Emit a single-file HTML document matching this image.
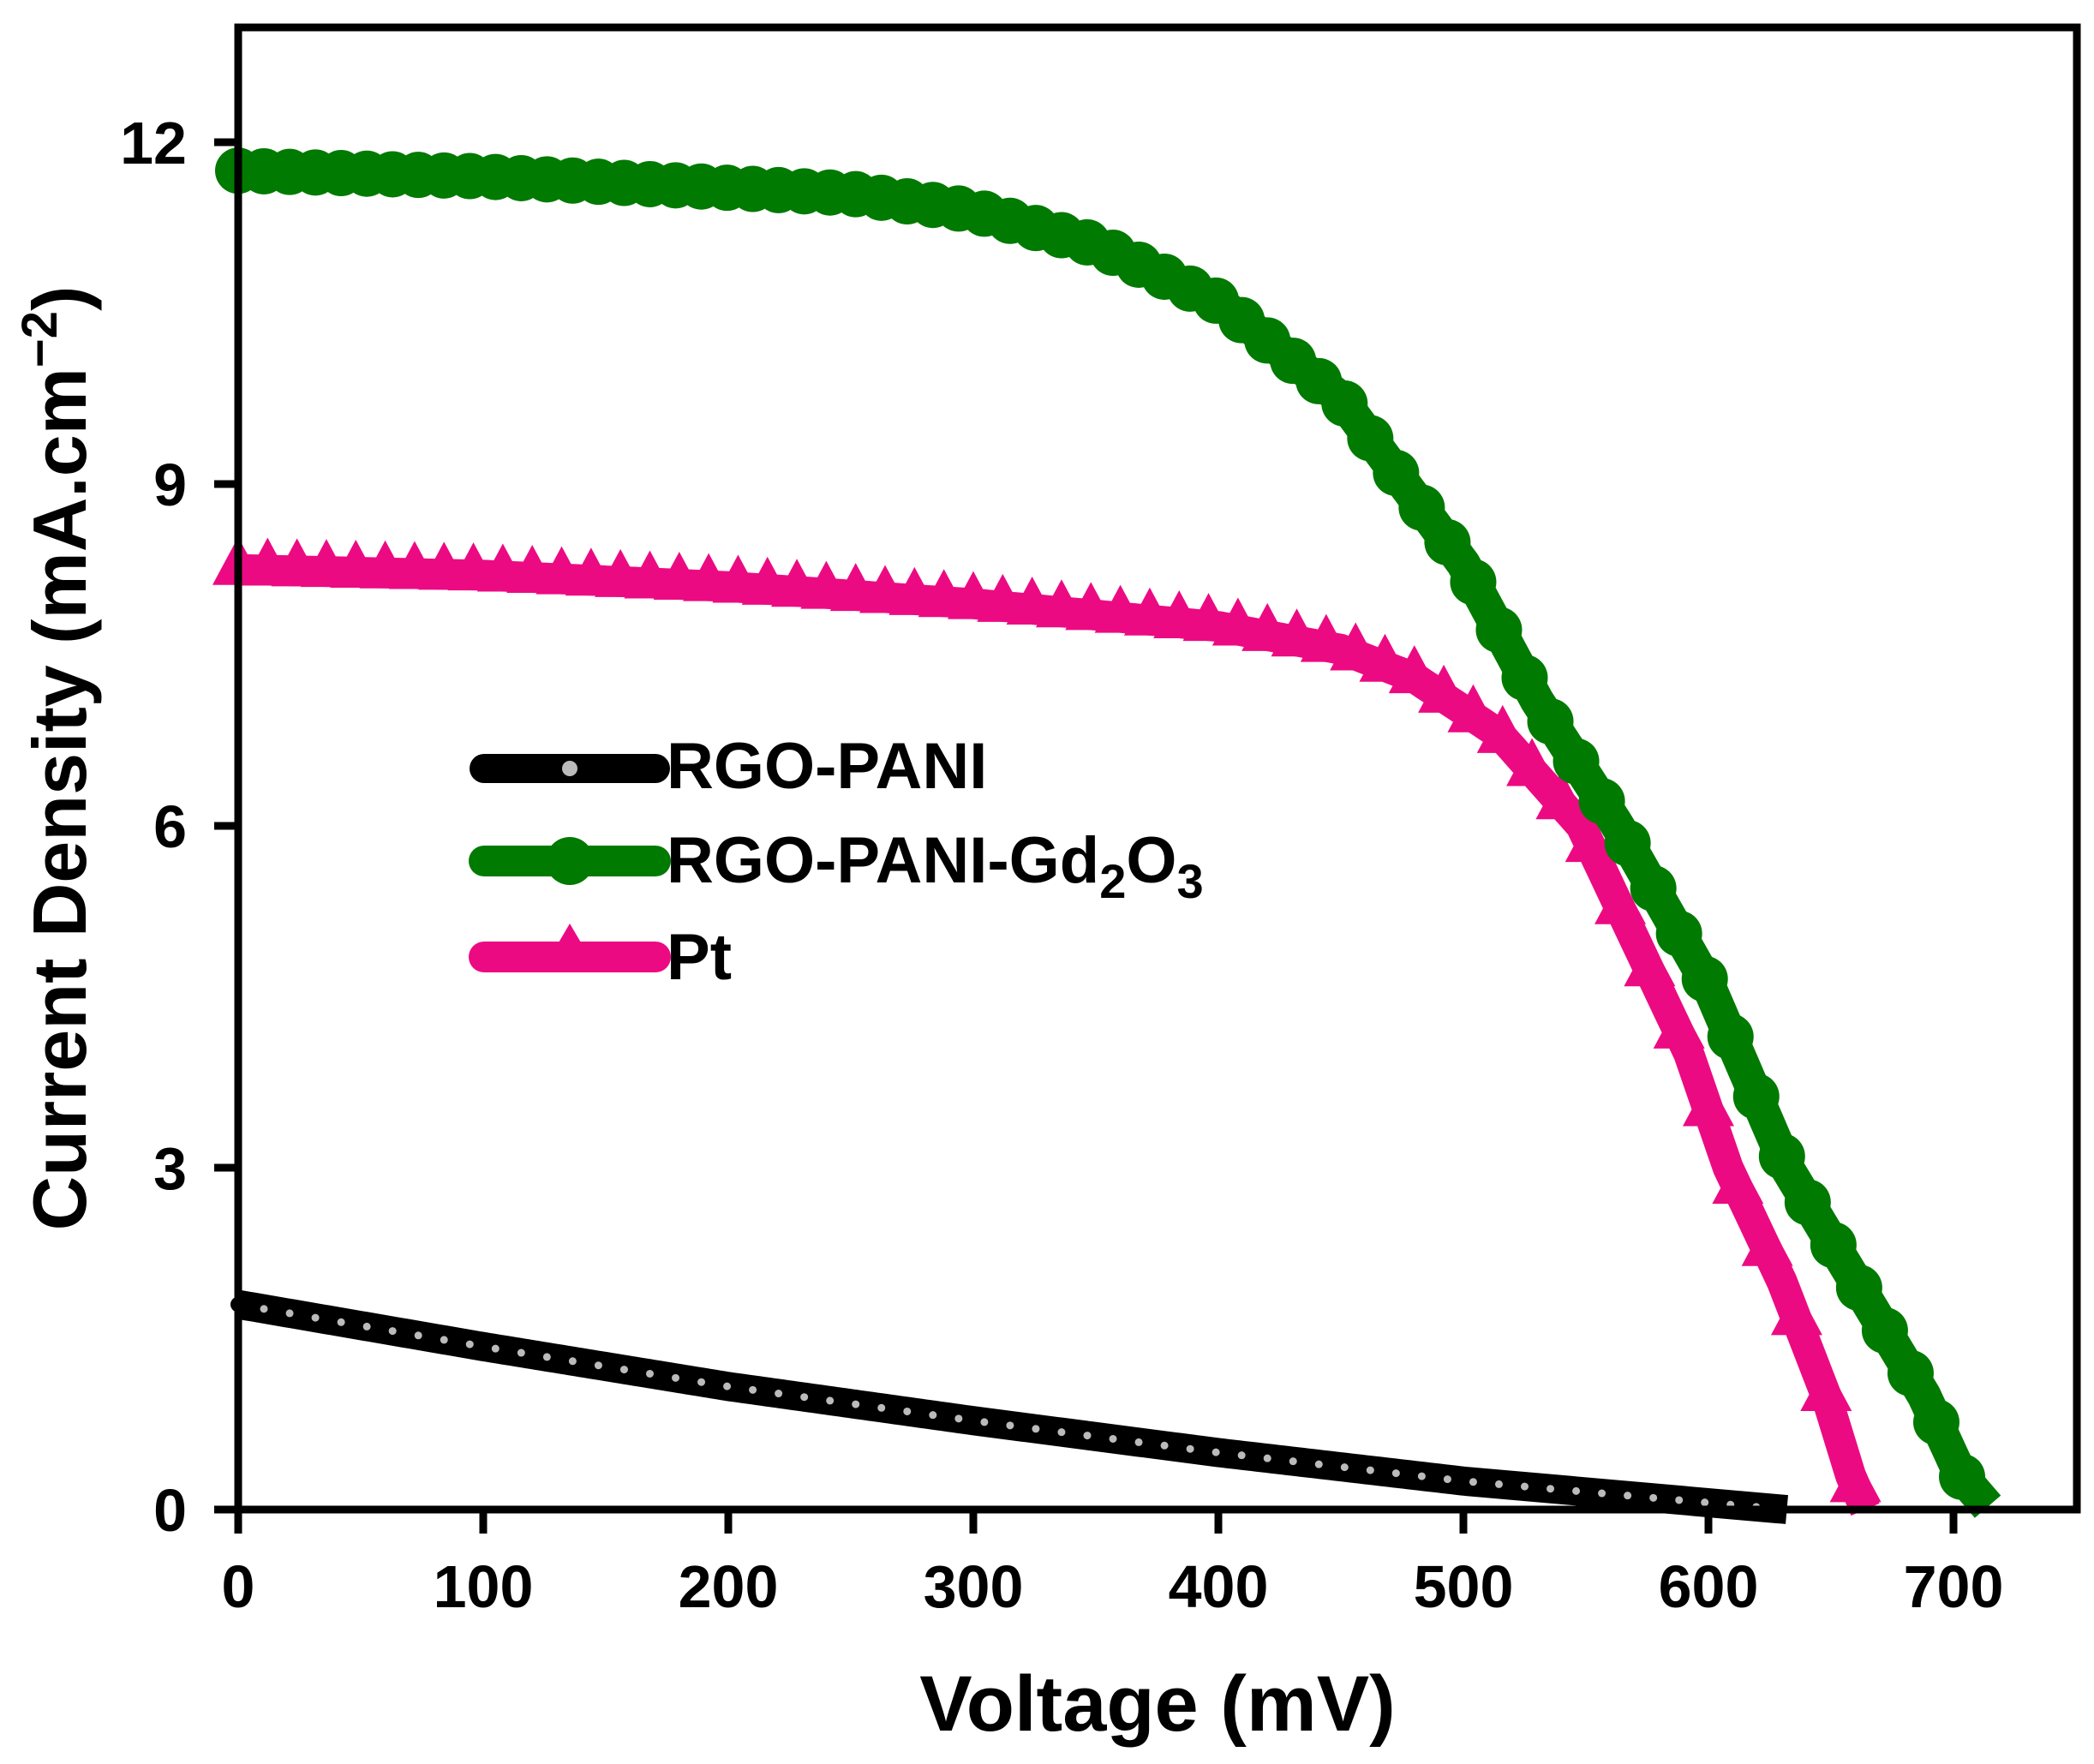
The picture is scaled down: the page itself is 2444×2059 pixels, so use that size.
<!DOCTYPE html>
<html><head><meta charset="utf-8"><style>
html,body{margin:0;padding:0;background:#fff}
svg{display:block}
text{font-family:"Liberation Sans",Arial,sans-serif;font-weight:bold;fill:#000}
</style></head><body>
<svg id="s" width="2444" height="2059" viewBox="0 0 2444 2059" xmlns="http://www.w3.org/2000/svg">
<rect x="0" y="0" width="2444" height="2059" fill="#fff"/>
<g id="data"></g>
<rect x="278" y="32" width="2146" height="1730" fill="none" stroke="#000" stroke-width="9"/>
<g stroke="#000" stroke-width="9">
<line x1="278" y1="1762" x2="278" y2="1790"/><line x1="564" y1="1762" x2="564" y2="1790"/>
<line x1="850" y1="1762" x2="850" y2="1790"/><line x1="1136" y1="1762" x2="1136" y2="1790"/>
<line x1="1422" y1="1762" x2="1422" y2="1790"/><line x1="1708" y1="1762" x2="1708" y2="1790"/>
<line x1="1994" y1="1762" x2="1994" y2="1790"/><line x1="2280" y1="1762" x2="2280" y2="1790"/>
<line x1="250" y1="1762" x2="278" y2="1762"/><line x1="250" y1="1363" x2="278" y2="1363"/>
<line x1="250" y1="964" x2="278" y2="964"/><line x1="250" y1="565" x2="278" y2="565"/>
<line x1="250" y1="166" x2="278" y2="166"/>
</g>
<g font-size="70" text-anchor="middle">
<text x="278" y="1876">0</text><text x="564" y="1876">100</text><text x="850" y="1876">200</text>
<text x="1136" y="1876">300</text><text x="1422" y="1876">400</text><text x="1708" y="1876">500</text>
<text x="1994" y="1876">600</text><text x="2280" y="1876">700</text>
</g>
<g font-size="70" text-anchor="end">
<text x="218" y="1787">0</text><text x="218" y="1388">3</text><text x="218" y="989">6</text>
<text x="218" y="590">9</text><text x="218" y="191">12</text>
</g>
<text x="1351" y="2020" font-size="92" text-anchor="middle">Voltage (mV)</text>
<text transform="translate(100,885) rotate(-90)" font-size="88" text-anchor="middle">Current Density (mA.cm<tspan dy="-34" font-size="58">−2</tspan><tspan dy="34">)</tspan></text>
<g id="leg"></g>
<g font-size="76">
<text x="778" y="920">RGO-PANI</text>
<text x="778" y="1030">RGO-PANI-Gd<tspan dy="18" font-size="56">2</tspan><tspan dy="-18">O</tspan><tspan dy="18" font-size="56">3</tspan></text>
<text x="778" y="1143">Pt</text>
</g>
</svg>
<script>
var NS="http://www.w3.org/2000/svg";
function X(v){return 278+v*2.86}
function Y(j){return 1762-j*133}
function interp(pts,v){for(var i=0;i<pts.length-1;i++){if(v<=pts[i+1][0]){var a=pts[i],b=pts[i+1];return a[1]+(b[1]-a[1])*(v-a[0])/(b[0]-a[0]);}}return pts[pts.length-1][1];}
var G=[[0,11.75],[100,11.7],[200,11.6],[250,11.55],[300,11.4],[350,11.1],[400,10.6],[450,9.75],[500,8.3],[530,7.1],[563,6.0],[600,4.6],[632,3.0],[660,2.0],[688,1.0],[703,0.3],[715,0]];
var P=[[0,8.25],[100,8.2],[200,8.1],[300,7.95],[400,7.75],[450,7.55],[480,7.3],[515,6.8],[548,6.0],[570,5.0],[592,4.0],[608,3.0],[630,2.0],[648,1.0],[658,0.3],[664,0]];
var B=[[0,1.8],[100,1.43],[200,1.08],[300,0.78],[400,0.5],[500,0.25],[600,0.06],[632,0]];
var d=document.getElementById("data");
function el(n,a,p){var e=document.createElementNS(NS,n);for(var k in a)e.setAttribute(k,a[k]);(p||d).appendChild(e);return e;}
function line(pts,c,w){var s="";for(var v=0;v<=pts[pts.length-1][0];v+=2){s+=X(v)+","+Y(interp(pts,v))+" ";}el("polyline",{points:s,fill:"none",stroke:c,"stroke-width":w,"stroke-linejoin":"round"});}
line(B,"#000",34);
for(var v=0;v<=625;v+=10.5){var x=X(v),y=Y(interp(B,v));el("circle",{cx:x,cy:y,r:9,fill:"#000"});el("circle",{cx:x,cy:y,r:4.5,fill:"#bbb"});}
line(P,"#ec0a83",36);
for(var v=0;v<=662;v+=12){var x=X(v),y=Y(interp(P,v));el("polygon",{points:(x)+","+(y-38)+" "+(x-30)+","+(y+18)+" "+(x+30)+","+(y+18),fill:"#ec0a83"});}
line(G,"#007a00",40);
for(var v=0;v<=706;v+=10.5){var x=X(v),y=Y(interp(G,v));el("circle",{cx:x,cy:y,r:27,fill:"#007a00"});}
var L=document.getElementById("leg");
el("line",{x1:565,y1:897,x2:765,y2:897,stroke:"#000","stroke-width":34,"stroke-linecap":"round"},L);
el("circle",{cx:665,cy:897,r:9,fill:"#bbb"},L);
el("line",{x1:565,y1:1005,x2:765,y2:1005,stroke:"#007a00","stroke-width":36,"stroke-linecap":"round"},L);
el("circle",{cx:665,cy:1005,r:28,fill:"#007a00"},L);
el("line",{x1:565,y1:1117,x2:765,y2:1117,stroke:"#ec0a83","stroke-width":36,"stroke-linecap":"round"},L);
el("polygon",{points:"665,1078 638,1124 692,1124",fill:"#ec0a83"},L);
</script>
</body></html>
